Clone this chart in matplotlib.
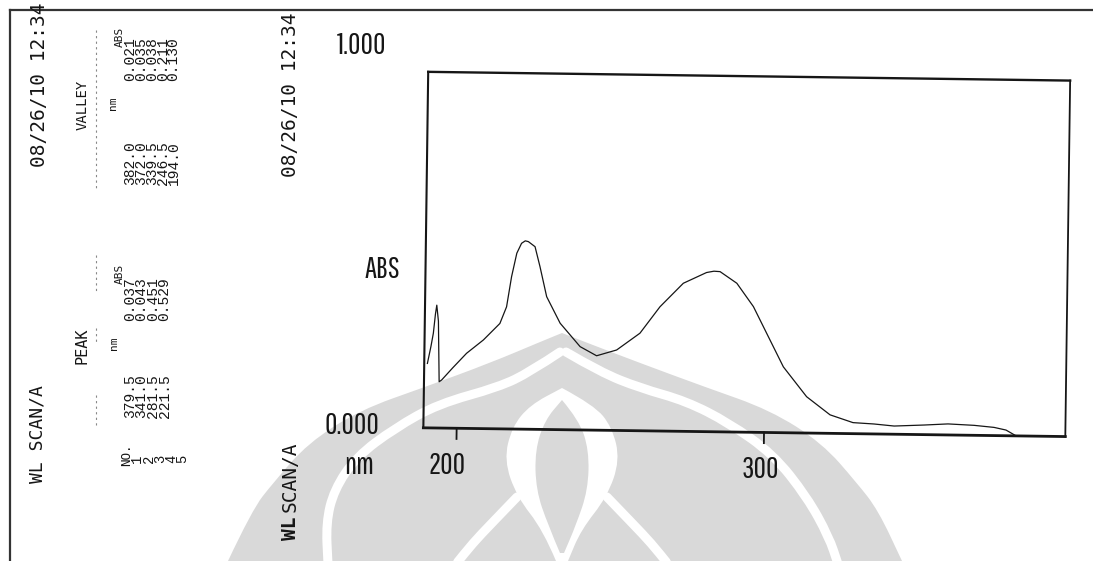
import matplotlib
matplotlib.use("Agg")
import matplotlib.pyplot as plt
from matplotlib.transforms import Affine2D
from matplotlib.path import Path
from matplotlib.patches import PathPatch
from matplotlib.lines import Line2D

# ---------------- data ----------------
wavelength_nm = [190.2, 191.3, 192.0, 192.6, 193.0, 193.6, 194.1, 194.9, 198.5,
                 202.9, 208.3, 213.6, 215.7, 217.2, 218.8, 220.3, 221.5, 222.5,
                 224.7, 226.4, 228.7, 233.2, 239.8, 245.2, 251.7, 259.2, 265.6,
                 273.1, 280.6, 283.0, 285.0, 290.5, 296.0, 300.4, 306.0, 313.7,
                 321.4, 328.9, 335.7, 342.3, 352.1, 359.8, 368.3, 374.8, 378.7,
                 381.6]
absorbance = [0.181, 0.230, 0.266, 0.320, 0.345, 0.300, 0.130, 0.135, 0.170,
              0.211, 0.249, 0.296, 0.343, 0.428, 0.494, 0.522, 0.529, 0.527,
              0.513, 0.457, 0.373, 0.299, 0.234, 0.209, 0.226, 0.274, 0.349,
              0.416, 0.447, 0.451, 0.450, 0.418, 0.353, 0.279, 0.185, 0.102,
              0.052, 0.031, 0.028, 0.023, 0.027, 0.031, 0.028, 0.023, 0.016,
              0.002]

x_ticks = [200, 300]
x_tick_labels = ["200", "300"]
y_top_label = "1.000"
y_bottom_label = "0.000"
y_axis_name = "ABS"
x_axis_name = "nm"
x_limits = (189.17, 398.02)
y_limits = (0.0, 1.0)

header_title = "WL SCAN/A"
header_date = "08/26/10 12:34"
peak_no = ["1", "2", "3", "4", "5"]
peak_nm = ["379.5", "341.0", "281.5", "221.5"]
peak_abs = ["0.037", "0.043", "0.451", "0.529"]
valley_nm = ["382.0", "372.0", "339.5", "246.5", "194.0"]
valley_abs = ["0.021", "0.035", "0.038", "0.211", "0.130"]

# ---------------- figure ----------------
W, H = 1093, 561
fig = plt.figure(figsize=(W / 100, H / 100), dpi=100)
fig.patch.set_facecolor("white")
PX = Affine2D().scale(1, -1).translate(0, H)   # image pixel coords -> display

INK = "#161616"
MONO = ["DejaVu Sans Mono"]
ROWS = ["Liberation Mono", "DejaVu Sans Mono"]
PLOT_FONT = ["Pathway Gothic One", "DejaVu Sans"]


def vtext(xc, ybot, s, size, family=MONO, weight="normal", color=INK):
    fig.text(xc / W, 1 - ybot / H, s, rotation=90, ha="center", va="bottom",
             fontsize=size, family=family, weight=weight, color=color)


def htext(xc, yc, s, size, family=PLOT_FONT, color=INK):
    fig.text(xc / W, 1 - yc / H, s, ha="center", va="center",
             fontsize=size, family=family, color=color)


# ---------------- faint watermark (logo) behind everything ----------------
WM = "#d9d9d9"


def smooth(pts, start=True):
    verts, codes = [pts[0]], [Path.MOVETO if start else Path.LINETO]
    for i in range(1, len(pts) - 1):
        mid = ((pts[i][0] + pts[i + 1][0]) / 2, (pts[i][1] + pts[i + 1][1]) / 2)
        verts += [pts[i], mid]
        codes += [Path.CURVE3, Path.CURVE3]
    verts.append(pts[-1]); codes.append(Path.LINETO)
    return verts, codes


def shape(*halves, fill=WM, z=-5):
    V, Cd = [], []
    for k, h in enumerate(halves):
        v, c = smooth(h, start=(k == 0))
        V += v; Cd += c
    V.append(V[0]); Cd.append(Path.CLOSEPOLY)
    fig.add_artist(PathPatch(Path(V, Cd), transform=PX, facecolor=fill,
                             edgecolor="none", zorder=z))


def stroke(pts, lw, z=-4):
    v, c = smooth(pts)
    fig.add_artist(PathPatch(Path(v, c), transform=PX, facecolor="none",
                             edgecolor="white", lw=lw, zorder=z,
                             capstyle="round"))


shape([(228, 561), (252, 510), (273, 483), (308, 443), (360, 410), (425, 387),
       (490, 363), (540, 342), (562, 333)],
      [(562, 333), (585, 342), (640, 363), (705, 387), (770, 410), (822, 443),
       (857, 483), (878, 510), (902, 561)])
stroke([(560, 352), (530, 372), (499, 387), (438, 404), (395, 428), (356, 457),
        (334, 490), (326, 523), (328, 564)], 6.5)
stroke([(566, 352), (600, 372), (640, 388), (686, 401), (729, 423), (773, 454),
        (807, 497), (829, 537), (838, 564)], 6.5)
shape([(556, 561), (543, 530), (517, 497), (504, 460), (512, 427), (530, 405),
       (562, 388)],
      [(562, 388), (594, 405), (612, 427), (620, 460), (607, 497), (581, 530),
       (568, 561)], fill="white", z=-4)
shape([(560, 553), (548, 525), (536, 490), (535, 450), (545, 420), (562, 400)],
      [(562, 400), (579, 420), (589, 450), (588, 490), (576, 525), (564, 553)],
      z=-3)
stroke([(517, 497), (490, 525), (473, 543), (456, 564)], 6.5, z=-3)
stroke([(607, 497), (634, 525), (651, 543), (668, 564)], 6.5, z=-3)

# ---------------- page border ----------------
fig.add_artist(Line2D([10, 10], [10, H], transform=PX, color="#333333", lw=1.6))
fig.add_artist(Line2D([10, W], [10, 10], transform=PX, color="#333333", lw=1.6))

# ---------------- left printout block ----------------
vtext(38, 483, header_title, 13)
vtext(40, 167, header_date, 14)
vtext(83, 130, "VALLEY", 10)
vtext(82, 364, "PEAK", 11)
for (y0, y1) in [(30, 190), (255, 292), (328, 342), (395, 425)]:
    fig.add_artist(Line2D([96, 96], [y0, y1], transform=PX, color="#888888",
                          lw=0.8, ls=(0, (2, 3))))
vtext(113, 110, "nm", 8)
vtext(120, 47, "ABS", 8)
vtext(114, 350, "nm", 8)
vtext(120, 284, "ABS", 8)
vtext(127, 466, "NO.", 9)

row_size = 10.5
valley_x = [130, 141.5, 152, 163, 173.5]
for xc, nm, ab in zip(valley_x, valley_nm, valley_abs):
    vtext(xc, 185, nm, row_size, family=ROWS)
    vtext(xc, 81, ab, row_size, family=ROWS)
peak_x = [130, 141.5, 153, 164.5]
for xc, nm, ab in zip(peak_x, peak_nm, peak_abs):
    vtext(xc, 418, nm, row_size, family=ROWS)
    vtext(xc, 321, ab, row_size, family=ROWS)
no_x = [137, 149, 160, 171.5, 182]
for xc, n in zip(no_x, peak_no):
    vtext(xc, 463, n, 10, family=ROWS)

# second (chart) header column
vtext(290, 177, header_date, 14)
vtext(290, 540, "WL", 14, weight="bold")
vtext(290, 512, "SCAN/A", 14)

# ---------------- spectrum axes (scan is slightly rotated) ----------------
ax = fig.add_axes([425.75 / W, 128.8 / H, 642 / W, 356 / H])
ax.set_xlim(*x_limits)
ax.set_ylim(*y_limits)
ax.axis("off")
rot = Affine2D().rotate_deg_around(746.75, H - 254.2, -0.78)
tD = ax.transData + rot
tA = ax.transAxes + rot

ax.plot(wavelength_nm, absorbance, color=INK, lw=0.9, transform=tD,
        solid_joinstyle="round", clip_on=False)

for (xa, ya), lw in [(([0, 1], [1, 1]), 1.7), (([0, 0], [0, 1]), 1.5),
                     (([1, 1], [0, 1]), 1.3), (([0, 1], [0, 0]), 2.0)]:
    ax.add_line(Line2D(xa, ya, transform=tA, color=INK, lw=lw, clip_on=False))

tick_len = 0.03
for t in x_ticks:
    ax.plot([t, t], [0, -tick_len], color=INK, lw=1.3, transform=tD, clip_on=False)

# axis annotations (plotter lettering)
htext(362, 45, y_top_label, 22)
htext(382, 270, y_axis_name, 22)
htext(352, 425, y_bottom_label, 22)
htext(359, 466, x_axis_name, 22)
htext(447, 466, x_tick_labels[0], 22)
htext(760, 469, x_tick_labels[1], 22)

fig.savefig("out.png", dpi=100, facecolor="white")
